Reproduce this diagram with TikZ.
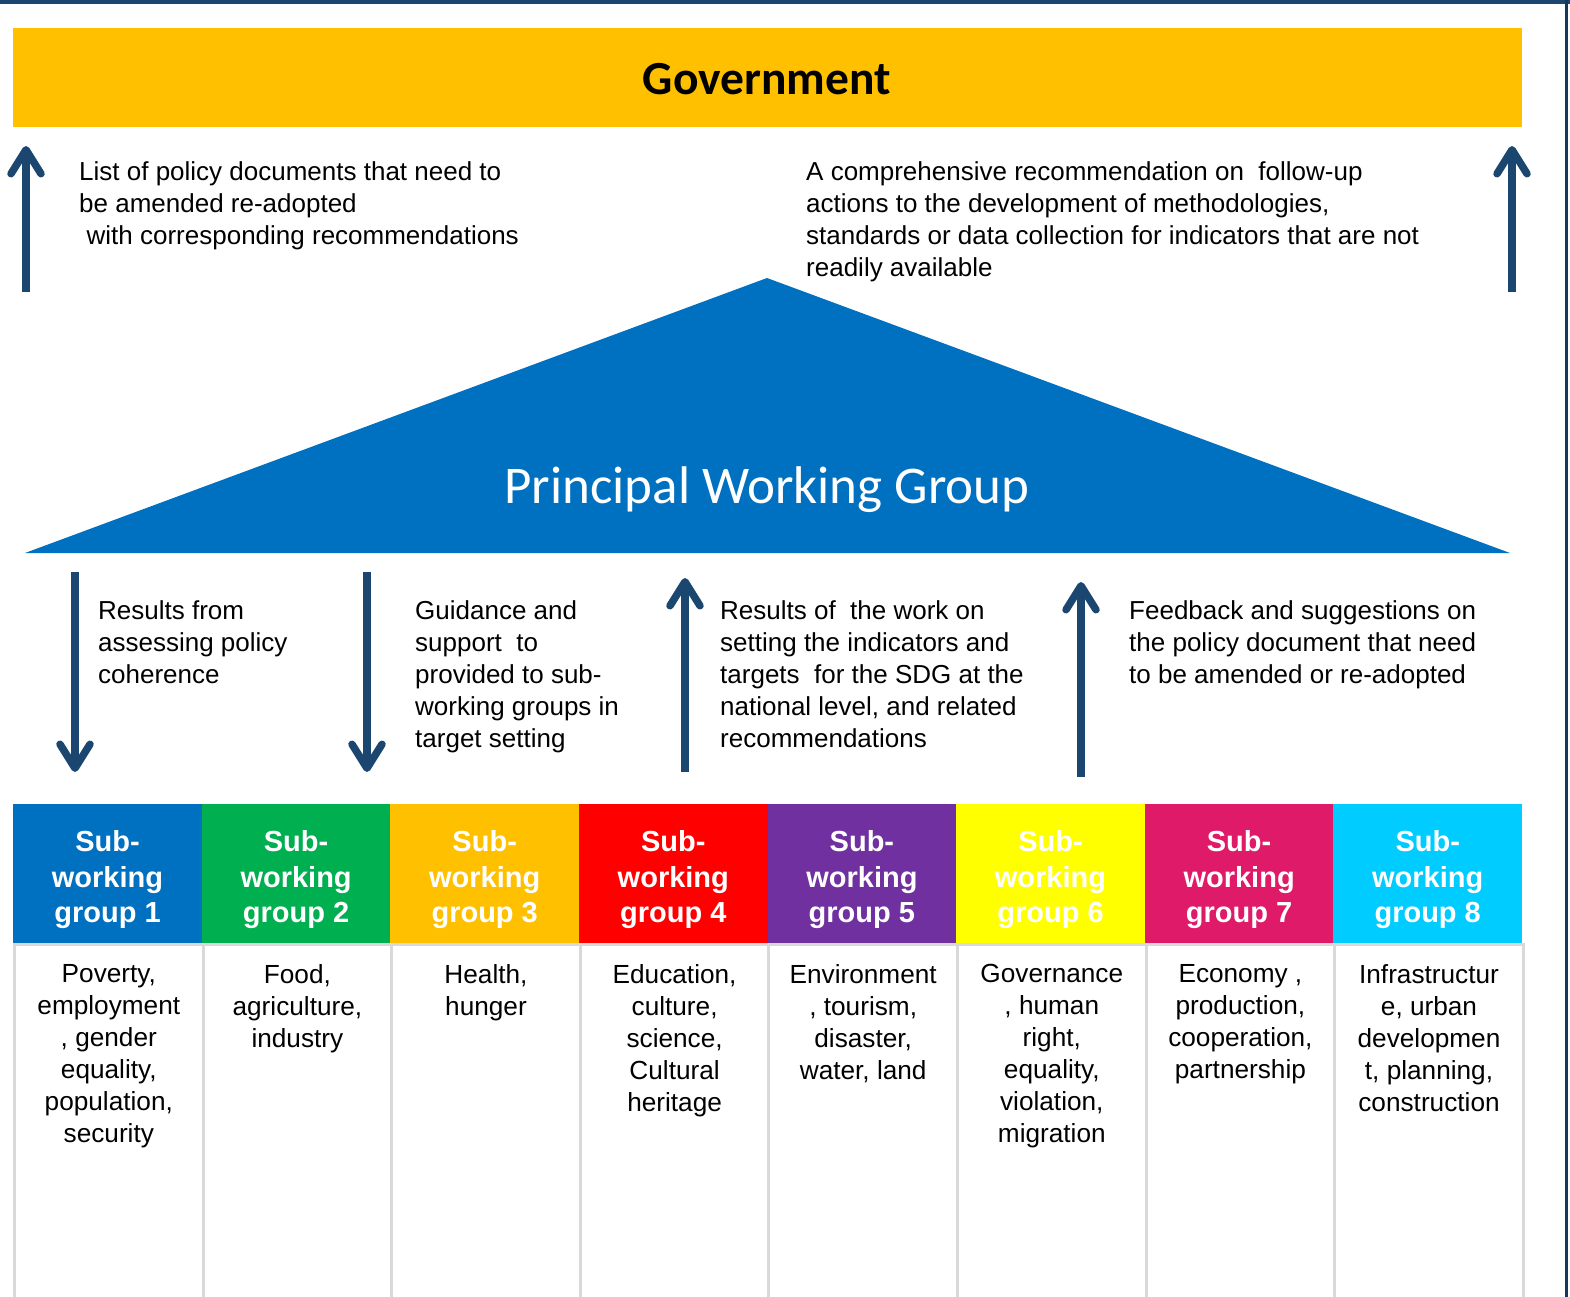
\documentclass[tikz,border=0pt]{standalone}
\usepackage{fontspec}
\setmainfont{Liberation Sans}
\newfontfamily\calibri{Carlito}
\usetikzlibrary{arrows.meta}
\definecolor{navy}{HTML}{1A4670}
\definecolor{gold}{HTML}{FFC000}
\definecolor{pwg}{HTML}{0070C0}
\definecolor{gA}{HTML}{0070C0}
\definecolor{gB}{HTML}{00B050}
\definecolor{gC}{HTML}{FFC000}
\definecolor{gD}{HTML}{FF0000}
\definecolor{gE}{HTML}{7030A0}
\definecolor{gF}{HTML}{FFFF00}
\definecolor{gG}{HTML}{DF1A68}
\definecolor{gH}{HTML}{00CCFF}
\definecolor{cellline}{HTML}{D9D9D9}
\tikzset{
  flow/.style={draw=navy, line width=7.5pt, -{Straight Barb[length=24pt,width=30pt,round]}},
  note/.style={anchor=north west, inner sep=0pt, align=left, font=\fontsize{26}{32}\selectfont},
  head/.style={fill=#1, minimum width=188.6pt, minimum height=139pt, inner sep=0pt, anchor=north west},
  headtext/.style={inner sep=0pt, text=white, align=center, font=\fontsize{29}{35.5}\selectfont\bfseries},
  body/.style={draw=cellline, line width=3pt, fill=white, minimum width=188.6pt, minimum height=360pt, anchor=north west, inner sep=0pt},
  bodytext/.style={anchor=north, inner sep=0pt, align=center, font=\fontsize{26.2}{32}\selectfont},
}
\begin{document}
\begin{tikzpicture}[x=1pt,y=-1pt]
\useasboundingbox (0,0) rectangle (1570,1297);
% frame lines
\draw[navy, line width=4pt] (0,2) -- (1570,2);
\draw[navy!80!black, line width=3pt] (1566.5,0) -- (1566.5,1297);
% government
\node[fill=gold, minimum width=1509pt, minimum height=99pt, inner sep=0pt, anchor=north west] (gov) at (13,28) {};
\node[font=\calibri\fontsize{47.5}{52}\selectfont\bfseries] (govt) at (767,79) {Government};
% triangle
\fill[pwg] (767,278) -- (1510,553) -- (25,553) -- cycle;
\node[font=\calibri\fontsize{53}{58}\selectfont, text=white] (pwgt) at (767,490) {Principal Working Group};
% top arrows
\coordinate (ul1) at (26,292); \coordinate (ul2) at (26,146);
\coordinate (ur1) at (1512,292); \coordinate (ur2) at (1512,146);
\draw[flow] (ul1) -- (ul2);
\draw[flow] (ur1) -- (ur2);
\node[note] (n1) at (79,161.5) {List of policy documents that need to\\be amended re-adopted\\\hspace*{7.5pt}with corresponding recommendations};
\node[note] (n2) at (806,161.5) {A comprehensive recommendation on\ \ follow-up\\actions to the development of methodologies,\\standards or data collection for indicators that are not\\readily available};
% middle arrows
\coordinate (d1a) at (75,572); \coordinate (d1b) at (75,772);
\coordinate (d2a) at (367,572); \coordinate (d2b) at (367,772);
\coordinate (u3a) at (685,772); \coordinate (u3b) at (685,578);
\coordinate (u4a) at (1081,777); \coordinate (u4b) at (1081,582);
\draw[flow] (d1a) -- (d1b);
\draw[flow] (d2a) -- (d2b);
\draw[flow] (u3a) -- (u3b);
\draw[flow] (u4a) -- (u4b);
\node[note] (m1) at (98,600) {Results from\\assessing policy\\coherence};
\node[note] (m2) at (415,600) {Guidance and\\support\ \ to\\provided to sub-\\working groups in\\target setting};
\node[note] (m3) at (720,600) {Results of\ \ the work on\\setting the indicators and\\targets\ \ for the SDG at the\\national level, and related\\recommendations};
\node[note] (m4) at (1129,600) {Feedback and suggestions on\\the policy document that need\\to be amended or re-adopted};
% body cells
\node[body] (b1) at (13,943) {};
\node[body] (b2) at (201.6,943) {};
\node[body] (b3) at (390.2,943) {};
\node[body] (b4) at (578.8,943) {};
\node[body] (b5) at (767.4,943) {};
\node[body] (b6) at (956,943) {};
\node[body] (b7) at (1144.6,943) {};
\node[body] (b8) at (1333.2,943) {};
% headers
\node[head=gA] (h1) at (13,804) {};
\node[head=gB] (h2) at (201.6,804) {};
\node[head=gC] (h3) at (390.2,804) {};
\node[head=gD] (h4) at (578.8,804) {};
\node[head=gE] (h5) at (767.4,804) {};
\node[head=gF] (h6) at (956,804) {};
\node[head=gG] (h7) at (1144.6,804) {};
\node[head=gH] (h8) at (1333.2,804) {};
\node[headtext] (ht1) at ([yshift=-6pt]h1.center) {Sub-\\working\\group 1};
\node[headtext] (ht2) at ([yshift=-6pt]h2.center) {Sub-\\working\\group 2};
\node[headtext] (ht3) at ([yshift=-6pt]h3.center) {Sub-\\working\\group 3};
\node[headtext] (ht4) at ([yshift=-6pt]h4.center) {Sub-\\working\\group 4};
\node[headtext] (ht5) at ([yshift=-6pt]h5.center) {Sub-\\working\\group 5};
\node[headtext] (ht6) at ([yshift=-6pt]h6.center) {Sub-\\working\\group 6};
\node[headtext] (ht7) at ([yshift=-6pt]h7.center) {Sub-\\working\\group 7};
\node[headtext] (ht8) at ([yshift=-6pt]h8.center) {Sub-\\working\\group 8};
% body texts
\node[bodytext] (t1) at ([yshift=-21pt]b1.north) {Poverty,\\employment\\, gender\\equality,\\population,\\security};
\node[bodytext] (t2) at ([yshift=-21pt]b2.north) {Food,\\agriculture,\\industry};
\node[bodytext] (t3) at ([yshift=-21pt]b3.north) {Health,\\hunger};
\node[bodytext] (t4) at ([yshift=-21pt]b4.north) {Education,\\culture,\\science,\\Cultural\\heritage};
\node[bodytext] (t5) at ([yshift=-21pt]b5.north) {Environment\\, tourism,\\disaster,\\water, land};
\node[bodytext] (t6) at ([yshift=-21pt]b6.north) {Governance\\, human\\right,\\equality,\\violation,\\migration};
\node[bodytext] (t7) at ([yshift=-21pt]b7.north) {Economy ,\\production,\\cooperation,\\partnership};
\node[bodytext] (t8) at ([yshift=-21pt]b8.north) {Infrastructur\\e, urban\\developmen\\t, planning,\\construction};
\end{tikzpicture}
\end{document}
